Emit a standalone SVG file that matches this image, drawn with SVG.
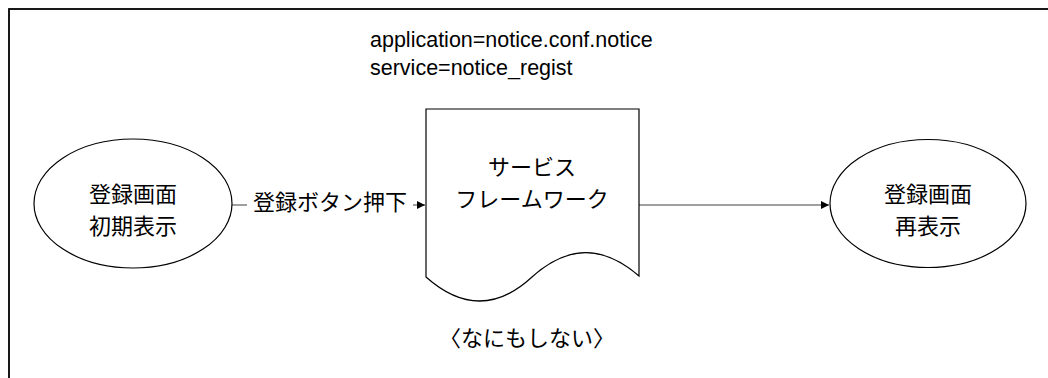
<svg xmlns="http://www.w3.org/2000/svg" width="1048" height="378" viewBox="0 0 1048 378">
<style>
.shape{fill:#fff;stroke:#000;stroke-width:1.2}
.conn{fill:none;stroke:#404040;stroke-width:1.2}
.t{font-family:"Liberation Sans","Noto Sans CJK JP",sans-serif;font-size:22px;fill:#000}
.c{text-anchor:middle}
.p{font-size:21.5px}
</style>
<defs>
<marker id="ah" viewBox="0 0 10 10" refX="10" refY="5" markerWidth="8" markerHeight="8" markerUnits="userSpaceOnUse" orient="auto">
<path d="M0,0 L10,5 L0,10 Z" fill="#000"/>
</marker>
</defs>
<rect x="0" y="0" width="1048" height="378" fill="#fff"/>
<g id="frame">
<rect x="9" y="9" width="1100" height="420" fill="none" stroke="#000" stroke-width="1.8"/>
</g>
<g id="params">
<text class="t p" x="370" y="47">application=notice.conf.notice</text>
<text class="t p" x="370" y="75">service=notice_regist</text>
</g>
<g id="connectors">
<line class="conn" x1="232" y1="205" x2="425" y2="205" marker-end="url(#ah)"/>
<line class="conn" x1="639" y1="205" x2="829" y2="205" marker-end="url(#ah)"/>
</g>
<g id="label-register">
<rect x="247" y="190" width="166" height="28" fill="#fff"/>
<text class="t c" x="330" y="210">登録ボタン押下</text>
</g>
<g id="node-initial">
<ellipse class="shape" cx="133" cy="203.5" rx="99" ry="64.5"/>
<text class="t c" x="133" y="202">登録画面</text>
<text class="t c" x="133" y="234">初期表示</text>
</g>
<g id="node-framework">
<path class="shape" d="M426,109 H639 V276 Q585,229 532,277 Q480,325 426,277 Z"/>
<text class="t c" x="532" y="175">サービス</text>
<text class="t c" x="532" y="207">フレームワーク</text>
</g>
<g id="node-redisplay">
<ellipse class="shape" cx="928" cy="203.5" rx="98" ry="64"/>
<text class="t c" x="928" y="202">登録画面</text>
<text class="t c" x="928" y="234">再表示</text>
</g>
<g id="note">
<text class="t c" x="527" y="346">〈なにもしない〉</text>
</g>
</svg>
